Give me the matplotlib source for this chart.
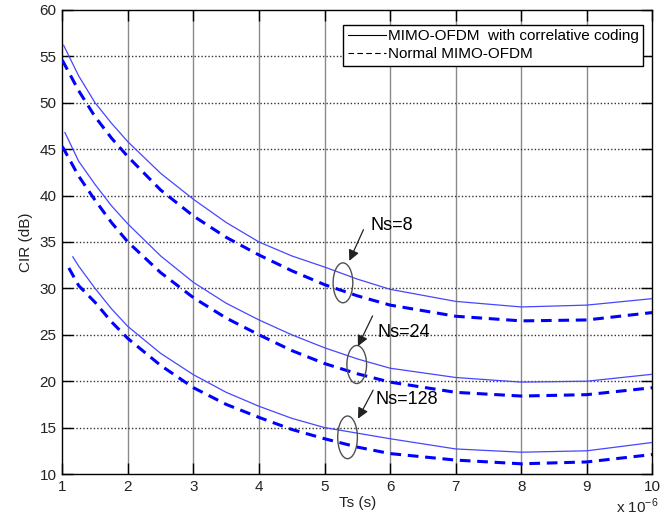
import matplotlib
matplotlib.use("Agg")
import matplotlib.pyplot as plt
from matplotlib.lines import Line2D
from matplotlib.patches import Ellipse

plt.rcParams['font.family'] = ['Liberation Sans', 'DejaVu Sans']
plt.rcParams['mathtext.fontset'] = 'custom'
plt.rcParams['mathtext.rm'] = 'Liberation Sans'

# values (Ts in units of 1e-6 s, CIR in dB)
ts_ns8_corr = [1.02, 1.25, 1.5, 1.75, 2, 2.5, 3, 3.5, 4, 4.5, 5, 5.5, 6, 7, 8, 9, 10]
cir_ns8_corr = [56.2, 52.9, 50.0, 47.8, 45.8, 42.4, 39.6, 37.1, 35.0, 33.5, 32.3, 31.0, 29.9, 28.6, 28.0, 28.2, 28.9]
ts_ns8_norm = [1.0, 1.25, 1.5, 1.75, 2, 2.5, 3, 3.5, 4, 4.5, 5, 5.5, 6, 7, 8, 9, 10]
cir_ns8_norm = [54.6, 51.3, 48.5, 46.2, 44.2, 40.6, 37.8, 35.5, 33.6, 31.9, 30.4, 29.2, 28.2, 27.0, 26.5, 26.6, 27.4]

ts_ns24_corr = [1.04, 1.25, 1.5, 1.75, 2, 2.5, 3, 3.5, 4, 4.5, 5, 5.5, 6, 7, 8, 9, 10]
cir_ns24_corr = [46.8, 43.7, 41.2, 38.9, 36.95, 33.5, 30.65, 28.4, 26.6, 25.0, 23.6, 22.4, 21.4, 20.4, 19.9, 20.0, 20.75]
ts_ns24_norm = [1.0, 1.25, 1.5, 1.75, 2, 2.5, 3, 3.5, 4, 4.5, 5, 5.5, 6, 7, 8, 9, 10]
cir_ns24_norm = [45.3, 42.1, 39.5, 37.1, 35.0, 31.7, 29.0, 26.8, 25.0, 23.3, 21.9, 20.8, 19.9, 18.8, 18.4, 18.55, 19.3]

ts_ns128_corr = [1.16, 1.25, 1.5, 1.75, 2, 2.5, 3, 3.5, 4, 4.5, 5, 5.5, 6, 7, 8, 9, 10]
cir_ns128_corr = [33.4, 32.4, 30.0, 27.8, 25.9, 23.0, 20.7, 18.8, 17.3, 16.0, 15.0, 14.4, 13.8, 12.7, 12.35, 12.5, 13.4]
ts_ns128_norm = [1.1, 1.25, 1.5, 1.75, 2, 2.5, 3, 3.5, 4, 4.5, 5, 5.5, 6, 7, 8, 9, 10]
cir_ns128_norm = [32.2, 30.3, 28.5, 26.4, 24.6, 21.7, 19.3, 17.5, 16.1, 14.8, 13.8, 12.9, 12.2, 11.5, 11.1, 11.3, 12.1]

x_ticks = [1, 2, 3, 4, 5, 6, 7, 8, 9, 10]
y_ticks = [10, 15, 20, 25, 30, 35, 40, 45, 50, 55, 60]

fig = plt.figure(figsize=(6.69, 5.15), dpi=100)
ax = fig.add_axes([0.0931, 0.0796, 0.8822, 0.901])

solid_color = '#4646ff'
dash_color = '#0000ff'
dash_style = (0, (3.5, 2.2))

for ts, cir in [(ts_ns8_corr, cir_ns8_corr), (ts_ns24_corr, cir_ns24_corr), (ts_ns128_corr, cir_ns128_corr)]:
    ax.plot(ts, cir, color=solid_color, lw=0.9, zorder=3)
for ts, cir in [(ts_ns8_norm, cir_ns8_norm), (ts_ns24_norm, cir_ns24_norm), (ts_ns128_norm, cir_ns128_norm)]:
    ax.plot(ts, cir, color=dash_color, lw=2.2, linestyle=dash_style, zorder=3)

ax.set_xlim(1, 10)
ax.set_ylim(10, 60)
ax.set_xticks(x_ticks)
ax.set_yticks(y_ticks)
ax.tick_params(direction='in', length=8, width=1, labelsize=11, labelcolor='#222222',
               top=True, right=True, pad=4)

# vertical grid solid gray, horizontal grid dotted
for xv in x_ticks[1:-1]:
    ax.axvline(xv, color='#8a8a8a', lw=1, zorder=1)
for yv in y_ticks[1:-1]:
    ax.axhline(yv, color='#333333', lw=1, linestyle=(0, (1, 1.5)), zorder=1)

for s in ax.spines.values():
    s.set_linewidth(1)
    s.set_color('black')

ax.set_xlabel('Ts (s)', fontsize=11, color='#222222', labelpad=2)
ax.set_ylabel('CIR (dB)', fontsize=11, color='#222222', labelpad=5)
ax.text(1.01, -0.07, r'x 10$^{-6}$', transform=ax.transAxes, ha='right', va='center',
        fontsize=11, color='#222222')

# annotations: ellipses, arrows and labels
notes = [
    ('Ns=8', (5.28, 30.6), 4.3, (5.36, 32.7), (5.61, 36.6), (5.70, 36.8)),
    ('Ns=24', (5.49, 21.8), 4.1, (5.49, 23.5), (5.75, 27.3), (5.80, 25.3)),
    ('Ns=128', (5.35, 13.95), 4.6, (5.49, 15.7), (5.76, 19.3), (5.77, 18.0)),
]
for label, center, h, head, tail, txt in notes:
    ax.add_patch(Ellipse(center, 0.3, h, fill=False, edgecolor='#505050', lw=1, zorder=4))
    ax.annotate('', xy=head, xytext=tail,
                arrowprops=dict(arrowstyle='-|>', color='#222222', lw=0.9, mutation_scale=16),
                zorder=5)
    ax.text(txt[0], txt[1], label, fontsize=13, va='center', ha='left', color='black', zorder=5)

handles = [Line2D([], [], color='black', lw=0.8),
           Line2D([], [], color='black', lw=0.8, linestyle=(0, (5, 3)))]
leg = ax.legend(handles, ['MIMO-OFDM  with correlative coding', 'Normal MIMO-OFDM'],
                loc='upper right', bbox_to_anchor=(0.984, 0.968), fontsize=11,
                fancybox=False, framealpha=1, edgecolor='black', handlelength=2.5,
                handletextpad=0.1, labelspacing=0.25, borderpad=0.3, borderaxespad=0)
leg.get_frame().set_linewidth(1)
leg.set_zorder(6)

fig.savefig('out.png', dpi=100)
